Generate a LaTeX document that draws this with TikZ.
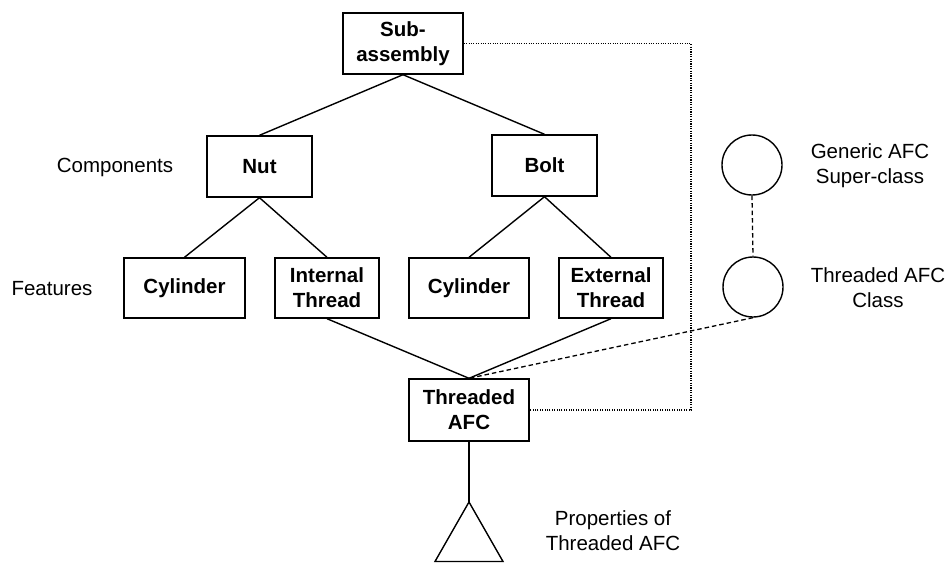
\documentclass[tikz,border=0pt]{standalone}
\usepackage{fontspec}
\setmainfont{Liberation Sans}
\begin{document}
\begin{tikzpicture}[x=1pt,y=-1pt,
  box/.style={draw,line width=1.4pt,inner sep=0pt,align=center,font=\fontsize{20.5}{25}\selectfont\bfseries},
  lbl/.style={inner sep=0pt,align=center,font=\fontsize{20.5}{25}\selectfont},
  cls/.style={draw,circle,line width=1.4pt,minimum size=60pt,inner sep=0pt},
  link/.style={line width=1.4pt},
  dot/.style={line width=1.1pt,dash pattern=on 1.1pt off 1.3pt},
  dsh/.style={line width=1.3pt,dash pattern=on 4.5pt off 3pt}]
\useasboundingbox (0,0) rectangle (947,563);
% boxes
\node[box,minimum width=120pt,minimum height=61pt] (sub) at (403,43.5) {Sub-\\assembly};
\node[box,minimum width=105pt,minimum height=61pt] (nut) at (259.5,166.5) {Nut};
\node[box,minimum width=105pt,minimum height=61pt] (bolt) at (544.5,165.5) {Bolt};
\node[box,minimum width=121pt,minimum height=60pt] (cyl1) at (184.5,288) {Cylinder};
\node[box,minimum width=104pt,minimum height=60pt] (ith) at (327,288) {Internal\\Thread};
\node[box,minimum width=120pt,minimum height=60pt] (cyl2) at (469,288) {Cylinder};
\node[box,minimum width=104pt,minimum height=60pt] (eth) at (611,288) {External\\Thread};
\node[box,minimum width=120pt,minimum height=62pt] (tafc) at (469,410) {Threaded\\AFC};
% circles
\node[cls] (gen) at (752,165) {};
\node[cls] (tcls) at (753,287) {};
% labels
\node[lbl] (comp) at (115,167) {Components};
\node[lbl] (feat) at (52,289) {Features};
\node[lbl] (genl) at (870,166) {Generic AFC\\Super-class};
\node[lbl] (tcl) at (878,288) {Threaded AFC\\Class};
\node[lbl] (prop) at (613,531) {Properties of\\Threaded AFC};
% tree links
\draw[link] (sub.south) -- (nut.north);
\draw[link] (sub.south) -- (bolt.north);
\draw[link] (nut.south) -- (cyl1.north);
\draw[link] (nut.south) -- (ith.north);
\draw[link] (bolt.south) -- (cyl2.north);
\draw[link] (bolt.south) -- (eth.north);
\draw[link] (ith.south) -- (tafc.north);
\draw[link] (eth.south) -- (tafc.north);
% properties triangle
\coordinate (apex) at (469,502);
\coordinate (bl) at (435,561.5);
\coordinate (br) at (503,561.5);
\draw[link] (tafc.south) -- (apex);
\draw[link,line join=miter] (apex) -- (bl) -- (br) -- cycle;
% dotted link
\coordinate (dr) at (691,200);
\draw[dot] (sub.east) -| (dr) |- (tafc.east);
% dashed class links
\draw[dsh] (gen.south) -- (tcls.north);
\draw[dsh] (tcls.south) -- (tafc.north);
\end{tikzpicture}
\end{document}
